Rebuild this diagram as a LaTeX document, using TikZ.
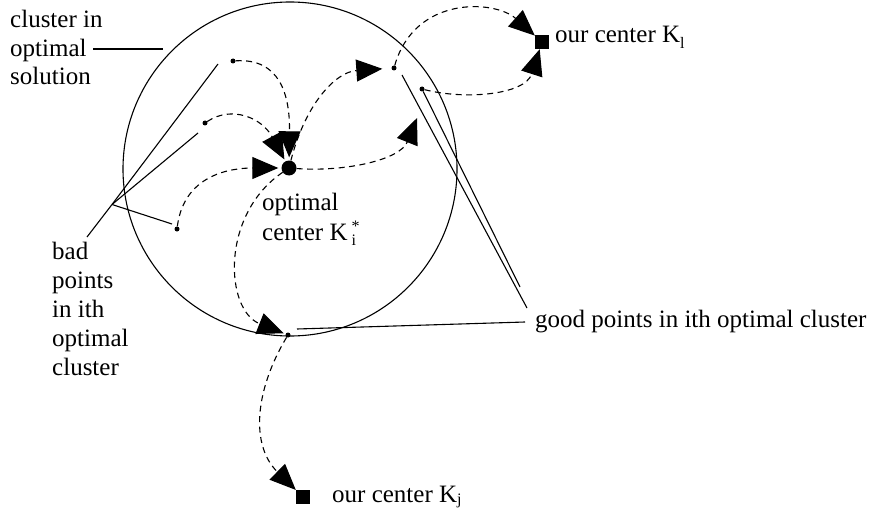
\documentclass[tikz,border=0pt]{standalone}
\usepackage{fontspec}
\setmainfont{Liberation Serif}
\usetikzlibrary{arrows.meta}
\newcommand{\subfs}{\fontsize{16}{16}\selectfont}
\begin{document}
\begin{tikzpicture}[x=1pt,y=-1pt,
  lbl/.style={anchor=base west, inner sep=0pt, font=\fontsize{25}{29}\selectfont},
  dot/.style={circle, fill=black, inner sep=0pt, minimum size=5pt},
  bigdot/.style={circle, fill=black, inner sep=0pt, minimum size=15pt},
  sq/.style={rectangle, fill=black, inner sep=0pt, minimum size=14pt},
  dsh/.style={dash pattern=on 6pt off 4.5pt, line width=1.1pt, -{Triangle[length=26pt,width=22pt]}},
  ln/.style={line width=1.1pt}]
\useasboundingbox (0,0) rectangle (872,508);

% cluster
\node[circle, draw, line width=1.1pt, inner sep=0pt, minimum size=334pt] (clu) at (290,169) {};

% points
\node[bigdot] (c) at (289,168) {};
\node[dot] (b1) at (233,61) {};
\node[dot] (b2) at (205,123) {};
\node[dot] (b3) at (177,229) {};
\node[dot] (g1) at (394,68) {};
\node[dot] (g2) at (422,89) {};
\node[dot] (gp) at (288,335) {};
\node[sq] (kl) at (542,42) {};
\node[sq] (kj) at (303,497) {};

% labels
\node[lbl] (cl1) at (10,28) {cluster in};
\node[lbl] (cl2) at (10,56.5) {optimal};
\node[lbl] (cl3) at (10,85) {solution};
\node[lbl] (bd1) at (52,259) {bad};
\node[lbl] (bd2) at (52,288) {points};
\node[lbl] (bd3) at (52,317) {in ith};
\node[lbl] (bd4) at (52,346) {optimal};
\node[lbl] (bd5) at (52,375) {cluster};
\node[lbl] (oc1) at (262,210.5) {optimal};
\node[lbl] (oc2) at (262,240) {center K\hspace{4pt}\rlap{\raisebox{-5pt}{\subfs i}}\raisebox{9pt}{\subfs *}};
\node[lbl] (gd) at (535,327) {good points in ith optimal cluster};
\node[lbl] (klt) at (555,42.5) {our center K\raisebox{-6pt}{\subfs l}};
\node[lbl] (kjt) at (332,502) {our center K\raisebox{-2.5pt}{\subfs j}};

% dashed arrows
\draw[dsh, shorten >=3pt] (b1) .. controls (280,58) and (290,95) .. (c);
\draw[dsh, shorten >=2pt] (b2) .. controls (232,105) and (262,118) .. (c);
\draw[dsh, shorten >=3pt] (b3) .. controls (184,175) and (230,168) .. (c);
\coordinate (dend) at (417,118);
\draw[dsh] (c) .. controls (345,172) and (400,160) .. (dend);
\draw[dsh, shorten >=9pt] (c) .. controls (305,105) and (335,72) .. (g1);
\draw[dsh] (g1) .. controls (415,-5) and (495,0) .. (kl);
\draw[dsh] (g2) .. controls (465,100) and (525,95) .. (kl);
\draw[dsh, shorten >=2pt] (c) .. controls (220,215) and (225,310) .. (gp);
\draw[dsh] (gp) .. controls (255,390) and (250,445) .. (kj);

% solid leader lines
\coordinate (cla) at (93,49);
\coordinate (clb) at (163,49);
\draw[ln] (cla) -- (clb);
\coordinate (J) at (112,204.5);
\coordinate (bdt) at (87,237);
\coordinate (e1) at (218,64);
\coordinate (e2) at (198,133);
\coordinate (e3) at (172,224);
\draw[ln] (bdt) -- (J) -- (e1);
\draw[ln] (J) -- (e2);
\draw[ln] (J) -- (e3);
\coordinate (gs1) at (297,329);
\coordinate (ge1) at (525,322);
\draw[ln] (gs1) -- (ge1);
\coordinate (gs2) at (402,75);
\coordinate (ge2) at (527,308);
\draw[ln] (gs2) -- (ge2);
\coordinate (ge3) at (520,287);
\draw[ln] (g2) -- (ge3);
\end{tikzpicture}
\end{document}
